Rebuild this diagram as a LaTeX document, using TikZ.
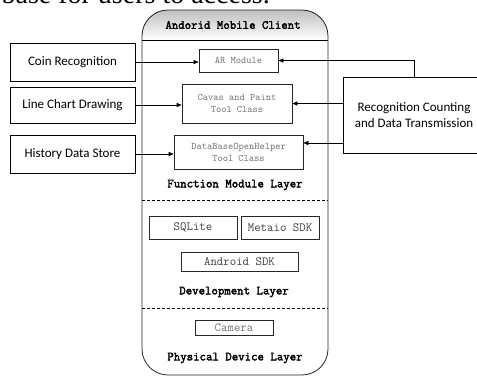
\documentclass[tikz,border=0pt]{standalone}
\usepackage{fontspec}
\newfontfamily\labelfont{Carlito}
\newfontfamily\paperfont{Liberation Serif}
\newfontfamily\layerfont[FakeBold = 2.5]{Latin Modern Mono}
\usetikzlibrary{arrows.meta}
\usetikzlibrary{positioning}
\tikzset{
outer box/.style = { rectangle, draw = black, fill = white, line width = 0.8pt, align = center, inner sep = 0pt, font = \labelfont\fontsize{13}{16}\selectfont },
module/.style = { rectangle, draw = black!85, fill = white, line width = 0.6pt, align = center, inner sep = 0pt, text = black!55, font = \ttfamily\fontsize{10}{12}\selectfont },
sdk/.style = { module, text = black!75, font = \ttfamily\fontsize{12.5}{14}\selectfont },
layer/.style = { inner sep = 0pt, font = \layerfont\fontsize{12.5}{14}\selectfont },
link/.style = { -{Triangle[length = 5pt, width = 4pt]}, line width = 0.6pt },
}
\begin{document}
\begin{tikzpicture}[x = 1pt, y = -1pt]
      \useasboundingbox (0, 0) rectangle (477, 376);
      % text line of the page above, cut by the picture edge
      \begin{scope}
      \clip (0, 0) rectangle (477, 376);
      \node[anchor = south east, inner sep = 0pt, font = \paperfont\fontsize{28}{30}\selectfont] (paper) at (270, 4.5) {base for users to access.};
      \end{scope}
      % client container
      \begin{scope}
      \clip[rounded corners = 26pt] (142, 10) rectangle (328, 375);
      \fill[top color = gray!50, bottom color = white] (142, 10) rectangle (328, 40);
      \end{scope}
      \draw[line width = 0.8pt, draw = black!85, rounded corners = 26pt] (142, 10) rectangle (328, 375);
      \draw[line width = 0.6pt] (142, 40) -- (328, 40);
      \draw[line width = 0.6pt, densely dashed] (142, 200) -- (328, 200);
      \draw[line width = 0.6pt, densely dashed] (142, 308) -- (328, 308);
      \node[layer] (client) at (233, 25) {Andorid Mobile Client};
      % function module layer
      \node[module, minimum width = 79, minimum height = 23] (ar) at (238.5, 60.5) {AR Module};
      \node[module, minimum width = 110, minimum height = 39] (canvas) at (237, 103.5) {Cavas and Paint\\Tool Class};
      \node[module, minimum width = 129, minimum height = 34] (helper) at (238.5, 152) {DataBaseOpenHelper\\Tool Class};
      \node[layer] (funclayer) at (235, 185) {Function Module Layer};
      % development layer
      \node[sdk, minimum width = 88, minimum height = 23] (sqlite) at (193, 227.5) {SQLite};
      \node[sdk, minimum width = 78, minimum height = 23] (metaio) at (280, 227.5) {Metaio SDK};
      \node[sdk, minimum width = 117, minimum height = 19] (asdk) at (239.5, 261.5) {Android SDK};
      \node[layer] (devlayer) at (234, 292) {Development Layer};
      % physical device layer
      \node[sdk, text = black!55, minimum width = 78, minimum height = 15] (camera) at (234, 327.5) {Camera};
      \node[layer] (phylayer) at (235, 358) {Physical Device Layer};
      % outside boxes
      \node[outer box, minimum width = 125, minimum height = 38] (coin) at (72.5, 62) {Coin Recognition};
      \node[outer box, minimum width = 125, minimum height = 36] (chart) at (72.5, 105) {Line Chart Drawing};
      \node[outer box, minimum width = 125, minimum height = 38] (history) at (72.5, 154) {History Data Store};
      \node[outer box, minimum width = 142, minimum height = 76] (recog) at (414, 115) {Recognition Counting\\and Data Transmission};
      \coordinate (helperin) at ([yshift = 9pt]helper.east);
      % arrows
      \draw[link] (coin.east) -- (coin.east -| ar.west);
      \draw[link] (chart.east) -- (chart.east -| canvas.west);
      \draw[link] (history.east) -- (history.east -| helper.west);
      \draw[link] (recog.north) |- (ar.east);
      \draw[link] (recog.west |- canvas.east) -- (canvas.east);
      \draw[link] (recog.west |- helperin) -- (helperin);
    \end{tikzpicture}
\end{document}
